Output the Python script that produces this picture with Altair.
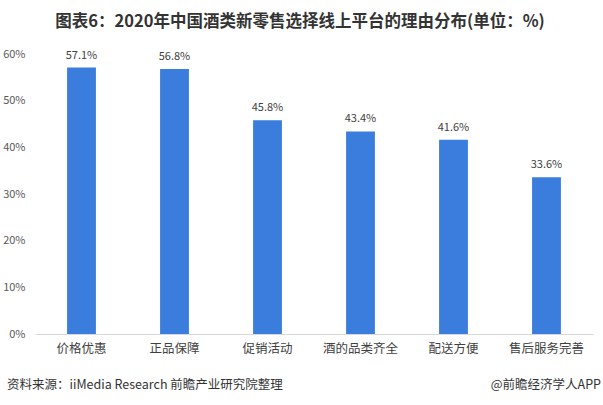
import altair as alt
import pandas as pd

categories = ["价格优惠", "正品保障", "促销活动", "酒的品类齐全", "配送方便", "售后服务完善"]
values = [57.1, 56.8, 45.8, 43.4, 41.6, 33.6]
y_ticks = [0, 10, 20, 30, 40, 50, 60]
title_text = "图表6：2020年中国酒类新零售选择线上平台的理由分布(单位：%)"
source_text = "资料来源：iiMedia Research 前瞻产业研究院整理"
credit_text = "@前瞻经济学人APP"

df = pd.DataFrame({"cat": categories, "val": values})
df["label"] = df["val"].map(lambda v: f"{v:.1f}%")

FONT = "Noto Sans CJK SC"

x = alt.X("cat:N", sort=categories, title=None,
          scale=alt.Scale(paddingInner=0.69, paddingOuter=0.345),
          axis=alt.Axis(labelAngle=0, labelFont=FONT, labelFontSize=12.5, labelColor="#404040",
                        labelPadding=8, ticks=False, domainColor="#d9d9d9", domainWidth=1))
y = alt.Y("val:Q", title=None,
          scale=alt.Scale(domain=[0, 60], nice=False),
          axis=alt.Axis(values=y_ticks, labelExpr="datum.value + '%'", grid=False, domain=False,
                        ticks=False, labelFont=FONT, labelFontSize=11, labelColor="#595959",
                        labelPadding=10))

base = alt.Chart(df)
bars = base.mark_bar(color="#3A7DDD").encode(x=x, y=y)
labels = base.mark_text(dy=-12, font=FONT, fontSize=11, color="#404040").encode(
    x=alt.X("cat:N", sort=categories), y="val:Q", text="label:N")

title = alt.Chart(pd.DataFrame({"t": [title_text]})).mark_text(
    font=FONT, fontSize=16.5, fontWeight="bold", color="#333333", align="center", baseline="middle"
).encode(x=alt.value(265), y=alt.value(-32), text="t:N")

src = alt.Chart(pd.DataFrame({"t": [source_text]})).mark_text(
    font=FONT, fontSize=12.5, color="#333333", align="left", baseline="middle"
).encode(x=alt.value(-28), y=alt.value(331), text="t:N")

cred = alt.Chart(pd.DataFrame({"t": [credit_text]})).mark_text(
    font=FONT, fontSize=12.5, color="#333333", align="right", baseline="middle"
).encode(x=alt.value(566), y=alt.value(331), text="t:N")

chart = alt.layer(bars, labels, title, src, cred).properties(
    width=558, height=280,
    padding={"left": 35, "top": 54, "right": 10, "bottom": 71},
    autosize=alt.AutoSizeParams(type="none"),
    background="white",
).configure_view(stroke=None)

chart.save("out.html", embed_options={"renderer": "svg", "actions": False})
